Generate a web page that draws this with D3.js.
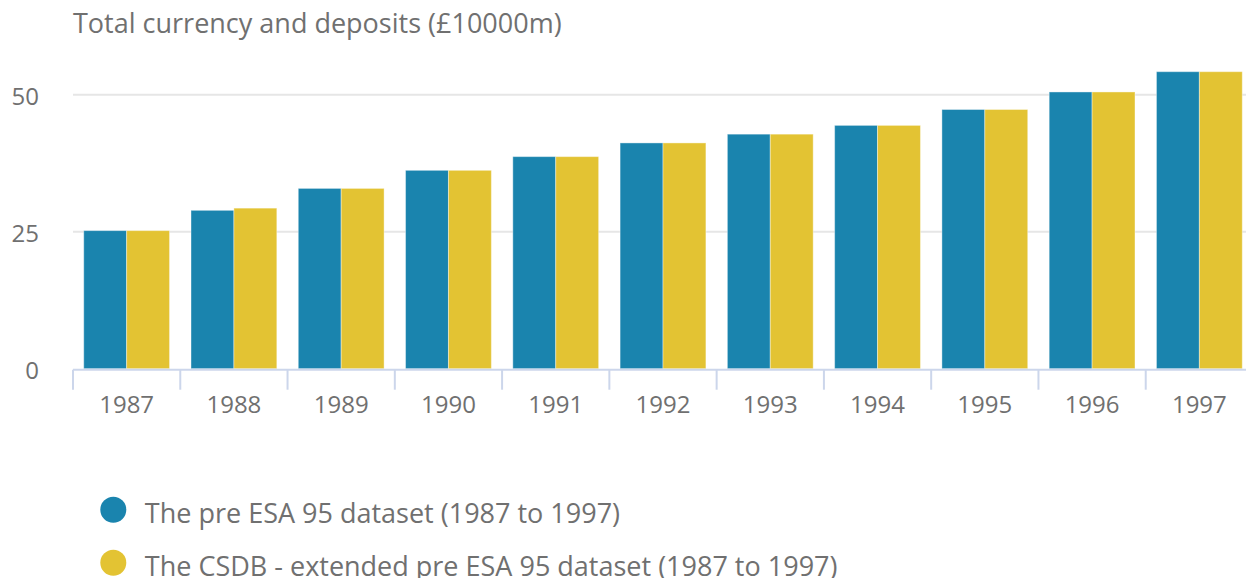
<!DOCTYPE html>
<meta charset="utf-8">
<style>
    body {
        margin: 0;
        background-color: #fff;
    }

    text {
        font-family: "Open Sans", "DejaVu Sans", sans-serif;
        fill: #707070;
    }

    .grid line {
        stroke: #e6e6e6;
        stroke-width: 2px;
    }

    .x-axis line {
        stroke: #ccd6eb;
        stroke-width: 2px;
    }
</style>

<body>
    <script src="https://d3js.org/d3.v7.min.js"></script>
    <script>

        var years = ["1987", "1988", "1989", "1990", "1991", "1992", "1993", "1994", "1995", "1996", "1997"];
        var preEsa = [25.2, 28.9, 32.9, 36.2, 38.7, 41.2, 42.8, 44.4, 47.3, 50.5, 54.2];
        var csdb = [25.2, 29.3, 32.9, 36.2, 38.7, 41.2, 42.8, 44.4, 47.3, 50.5, 54.2];
        var seriesNames = ["The pre ESA 95 dataset (1987 to 1997)",
            "The CSDB - extended pre ESA 95 dataset (1987 to 1997)"];
        var colours = ["#1a84ae", "#e3c333"];
        var yTicks = [0, 25, 50];

        var width = 1246,
            height = 578,
            left = 73,
            right = 1253,
            bottom = 368.7;

        var svg = d3.select("body").append("svg")
            .attr("width", width)
            .attr("height", height);

        // one band per year, ticks sit on the band edges
        var x0 = d3.scaleBand()
            .domain(years)
            .range([left, right]);

        var x1 = d3.scaleBand()
            .domain([0, 1])
            .range([0, x0.bandwidth() * 0.8]);

        var y = d3.scaleLinear()
            .domain([0, 50])
            .range([bottom, 94.7]);

        svg.append("text")
            .attr("x", 73)
            .attr("y", 33)
            .style("font-size", "27px")
            .text("Total currency and deposits (£10000m)");

        var grid = svg.append("g").attr("class", "grid");
        grid.selectAll("line")
            .data(yTicks.filter(function (d) { return d > 0; }))
            .enter().append("line")
            .attr("x1", left).attr("x2", right)
            .attr("y1", function (d) { return y(d); })
            .attr("y2", function (d) { return y(d); });

        svg.append("g").selectAll("text")
            .data(yTicks)
            .enter().append("text")
            .attr("x", 39)
            .attr("y", function (d) { return y(d) + 10; })
            .attr("text-anchor", "end")
            .style("font-size", "24px")
            .text(function (d) { return d; });

        var series = [preEsa, csdb];
        var groups = svg.append("g").selectAll("g")
            .data(years)
            .enter().append("g")
            .attr("transform", function (d) { return "translate(" + (x0(d) + x0.bandwidth() * 0.1) + ",0)"; });

        groups.selectAll("rect")
            .data(function (d, i) { return series.map(function (s, j) { return { k: j, v: s[i] }; }); })
            .enter().append("rect")
            .attr("x", function (d) { return x1(d.k); })
            .attr("width", x1.bandwidth())
            .attr("y", function (d) { return y(d.v); })
            .attr("height", function (d) { return bottom - y(d.v); })
            .attr("fill", function (d) { return colours[d.k]; })
            .attr("stroke", "#fff")
            .attr("stroke-opacity", 0.4)
            .attr("stroke-width", 1);

        var xAxis = svg.append("g")
            .attr("class", "x-axis")
            .attr("transform", "translate(0," + (bottom + 1) + ")");

        xAxis.append("line")
            .attr("x1", left).attr("x2", right);

        xAxis.selectAll(".tick")
            .data(years)
            .enter().append("line")
            .attr("x1", function (d) { return x0(d); })
            .attr("x2", function (d) { return x0(d); })
            .attr("y1", 0).attr("y2", 20);

        xAxis.selectAll("text")
            .data(years)
            .enter().append("text")
            .attr("x", function (d) { return x0(d) + x0.bandwidth() / 2; })
            .attr("y", 43.5)
            .attr("text-anchor", "middle")
            .style("font-size", "24px")
            .text(function (d) { return d; });

        var legend = svg.append("g").selectAll("g")
            .data(seriesNames)
            .enter().append("g")
            .attr("transform", function (d, i) { return "translate(113.3," + (509.7 + i * 53) + ")"; });

        legend.append("circle")
            .attr("r", 13)
            .attr("fill", function (d, i) { return colours[i]; });

        legend.append("text")
            .attr("x", 31.5)
            .attr("y", 13)
            .style("font-size", "27px")
            .text(function (d) { return d; });

    </script>
</body>
